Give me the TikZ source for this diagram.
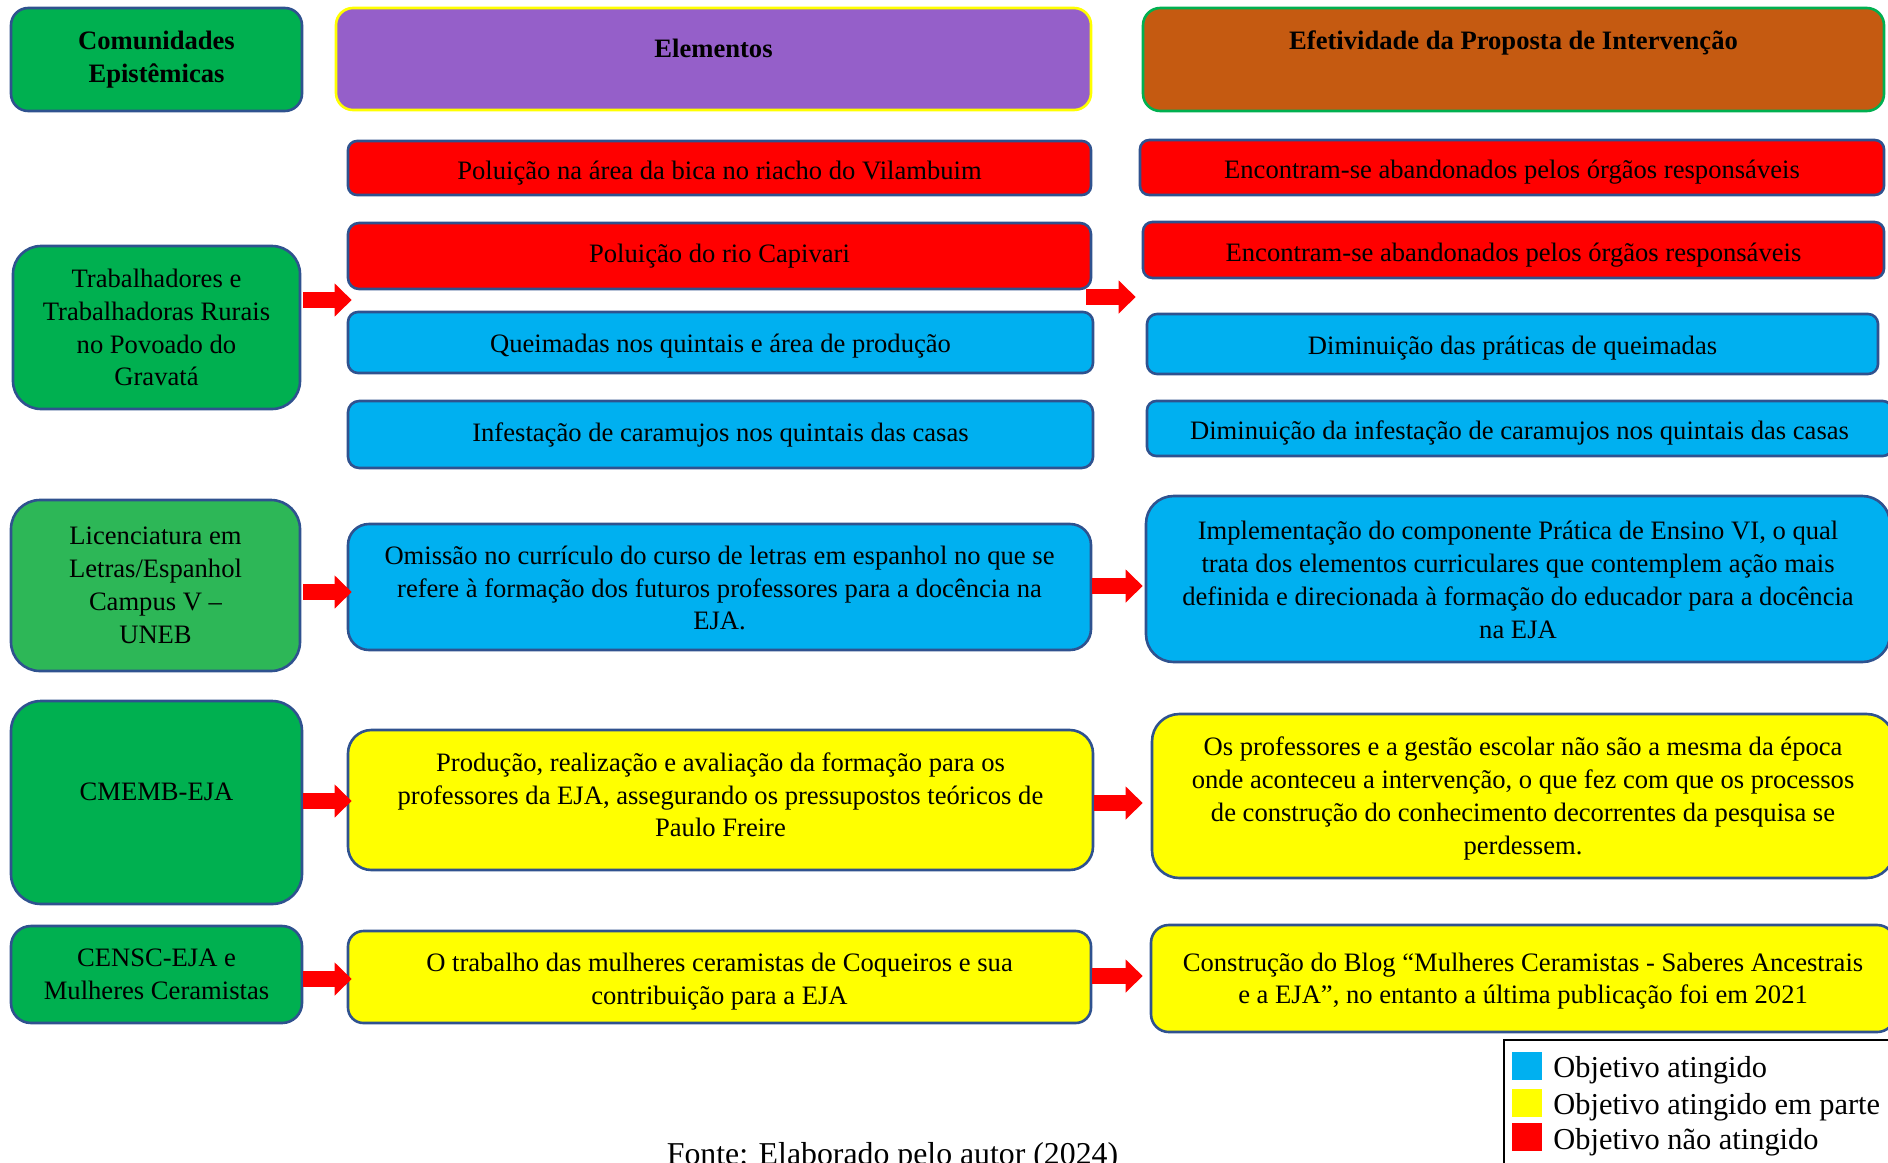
\documentclass[tikz,border=0pt]{standalone}
\usepackage{fontspec}
\setmainfont{Liberation Serif}
\usetikzlibrary{arrows.meta}
\definecolor{bord}{HTML}{2F528F}
\definecolor{cgreen}{HTML}{00B050}
\definecolor{clgreen}{HTML}{2DB757}
\definecolor{cpurple}{HTML}{955FC9}
\definecolor{corange}{HTML}{C55A11}
\definecolor{cred}{HTML}{FF0000}
\definecolor{cblue}{HTML}{00B0F0}
\definecolor{cyellow}{HTML}{FFFF00}
\newcommand\shtxt[2]{\raisebox{#1}[\height][\depth]{\begin{tabular}{@{}c@{}}#2\end{tabular}}}
\tikzset{
  box/.style={draw=bord, line width=1.3pt, inner sep=0pt, align=center,
    font=\fontsize{13.3}{16.4}\selectfont},
  hdr/.style={box, font=\fontsize{13.3}{16.8}\selectfont\bfseries},
  blockarrow/.style={draw=cred, line width=8pt, -{Triangle[length=8.5pt,width=16pt]}},
  legtxt/.style={anchor=base west, inner sep=0pt, font=\fontsize{15.2}{18}\selectfont},
}
\begin{document}
\begin{tikzpicture}[x=0.5pt,y=-0.5pt]
\useasboundingbox (0,0) rectangle (1888,1162);
% headers
\node[hdr, fill=cgreen, minimum width=145.5pt, minimum height=51.5pt, rounded corners=8.6pt] (hA) at (156.5,59.5) {Comunidades\\Epistêmicas};
\node[hdr, fill=cpurple, draw=cyellow, minimum width=377.5pt, minimum height=51pt, rounded corners=8.5pt] (hB) at (713.5,59) {};
\node[hdr, draw=none, fill=none] (hBt) at (713.5,48) {Elementos};
\node[hdr, fill=corange, draw=cgreen, minimum width=370.5pt, minimum height=51.5pt, rounded corners=8.6pt] (hC) at (1513.5,59.5) {};
\node[hdr, draw=none, fill=none] (hCt) at (1513.5,43) {Efetividade da Proposta de Intervenção};
% left column
\node[box, fill=cgreen, minimum width=143.5pt, minimum height=81.5pt, rounded corners=14pt] (l1) at (156.5,327.5) {Trabalhadores e\\Trabalhadoras Rurais\\no Povoado do\\Gravatá};
\node[box, fill=clgreen, minimum width=144.5pt, minimum height=85.5pt, rounded corners=14.5pt] (l2) at (155.5,585.5) {Licenciatura em\\Letras/Espanhol\\Campus V –\\UNEB};
\node[box, fill=cgreen, minimum width=145.5pt, minimum height=101.5pt, rounded corners=15pt] (l3) at (156.5,802.5) {};
\node[box, draw=none, fill=none] (l3t) at (156.5,792) {CMEMB-EJA};
\node[box, fill=cgreen, minimum width=145.5pt, minimum height=48.5pt, rounded corners=10pt] (l4) at (156.5,974.5) {CENSC-EJA e\\Mulheres Ceramistas};
% middle column
\node[box, fill=cred, minimum width=371.5pt, minimum height=27pt, rounded corners=4.5pt] (p1) at (719.5,168) {\shtxt{-2.4pt}{Poluição na área da bica no riacho do Vilambuim}};
\node[box, fill=cred, minimum width=371.5pt, minimum height=33pt, rounded corners=5.5pt] (p2) at (719.5,256) {Poluição do rio Capivari};
\node[box, fill=cblue, minimum width=372.5pt, minimum height=30.5pt, rounded corners=5pt] (q) at (720.5,342.5) {\shtxt{-1.8pt}{Queimadas nos quintais e área de produção}};
\node[box, fill=cblue, minimum width=372.5pt, minimum height=33.5pt, rounded corners=5.6pt] (inf) at (720.5,434.5) {Infestação de caramujos nos quintais das casas};
\node[box, fill=cblue, minimum width=371.5pt, minimum height=63pt, rounded corners=10.5pt] (om) at (719.5,587) {\shtxt{-1.8pt}{Omissão no currículo do curso de letras em espanhol no que se\\refere à formação dos futuros professores para a docência na\\EJA.}};
\node[box, fill=cyellow, minimum width=372.5pt, minimum height=70pt, rounded corners=11.7pt] (prod) at (720.5,800) {\shtxt{1.2pt}{Produção, realização e avaliação da formação para os\\professores da EJA, assegurando os pressupostos teóricos de\\Paulo Freire}};
\node[box, fill=cyellow, minimum width=371.5pt, minimum height=46pt, rounded corners=7.7pt] (trab) at (719.5,977) {\shtxt{-2.4pt}{O trabalho das mulheres ceramistas de Coqueiros e sua\\contribuição para a EJA}};
% right column
\node[box, fill=cred, minimum width=372pt, minimum height=27.5pt, rounded corners=4.6pt] (e1) at (1512,167.5) {\shtxt{-2.4pt}{Encontram-se abandonados pelos órgãos responsáveis}};
\node[box, fill=cred, minimum width=370.5pt, minimum height=28pt, rounded corners=4.7pt] (e2) at (1513.5,250) {\shtxt{-2.4pt}{Encontram-se abandonados pelos órgãos responsáveis}};
\node[box, fill=cblue, minimum width=365.5pt, minimum height=30pt, rounded corners=5pt] (d1) at (1512.5,344) {\shtxt{-1.8pt}{Diminuição das práticas de queimadas}};
\node[box, fill=cblue, minimum width=372.5pt, minimum height=27.5pt, rounded corners=4.6pt] (d2) at (1519.5,428.5) {\shtxt{-2.4pt}{Diminuição da infestação de caramujos nos quintais das casas}};
\node[box, fill=cblue, minimum width=372pt, minimum height=83pt, rounded corners=13.8pt] (impl) at (1518,579) {\shtxt{-1.8pt}{Implementação do componente Prática de Ensino VI, o qual\\trata dos elementos curriculares que contemplem ação mais\\definida e direcionada à formação do educador para a docência\\na EJA}};
\node[box, fill=cyellow, minimum width=371pt, minimum height=82pt, rounded corners=13.7pt] (os) at (1523,796) {\shtxt{-1.2pt}{Os professores e a gestão escolar não são a mesma da época\\onde aconteceu a intervenção, o que fez com que os processos\\de construção do conhecimento decorrentes da pesquisa se\\perdessem.}};
\node[box, fill=cyellow, minimum width=372pt, minimum height=53.5pt, rounded corners=8.9pt] (cons) at (1523,978.5) {\shtxt{-1.2pt}{Construção do Blog “Mulheres Ceramistas - Saberes Ancestrais\\e a EJA”, no entanto a última publicação foi em 2021}};
% arrows
\coordinate (ya1) at (0,300);
\coordinate (ya2) at (0,592);
\coordinate (ya3) at (0,801);
\coordinate (ya4) at (0,979);
\coordinate (yb1) at (0,297);
\coordinate (yb2) at (0,586);
\coordinate (yb3) at (0,803);
\coordinate (yb4) at (0,976);
\draw[blockarrow] ([xshift=1pt]l1.east |- ya1) -- ([xshift=2.5pt]p2.west |- ya1);
\draw[blockarrow] ([xshift=1pt]l2.east |- ya2) -- ([xshift=2.5pt]om.west |- ya2);
\draw[blockarrow] (l3.east |- ya3) -- ([xshift=2.5pt]prod.west |- ya3);
\draw[blockarrow] (l4.east |- ya4) -- ([xshift=2.5pt]trab.west |- ya4);
\draw[blockarrow] ([xshift=-3pt]p2.east |- yb1) -- ([xshift=-3pt]e2.west |- yb1);
\draw[blockarrow] (om.east |- yb2) -- ([xshift=-1pt]impl.west |- yb2);
\draw[blockarrow] (prod.east |- yb3) -- ([xshift=-4pt]os.west |- yb3);
\draw[blockarrow] (trab.east |- yb4) -- ([xshift=-3.5pt]cons.west |- yb4);
% legend
\draw[black, line width=0.6pt] (1504,1040) rectangle (1900,1175);
\fill[cblue] (1512,1052) rectangle (1542,1080);
\fill[cyellow] (1512,1089) rectangle (1542,1117);
\fill[cred] (1512,1123) rectangle (1542,1151);
\node[legtxt] (lg1) at (1553,1077) {Objetivo atingido};
\node[legtxt] (lg2) at (1553,1114) {Objetivo atingido em parte};
\node[legtxt] (lg3) at (1553,1149) {Objetivo não atingido};
% caption
\node[anchor=base, inner sep=0pt, font=\fontsize{15.9}{18}\selectfont] (cap) at (892.5,1164) {Fonte: Elaborado pelo autor (2024)};
\end{tikzpicture}
\end{document}
